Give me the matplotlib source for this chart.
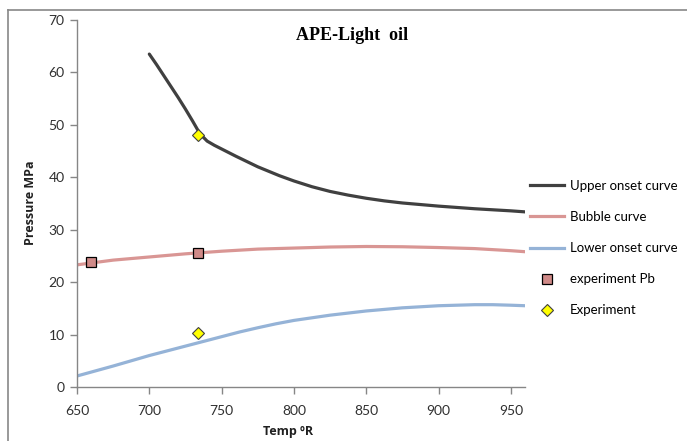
import matplotlib
matplotlib.use("Agg")
import matplotlib.pyplot as plt
from matplotlib.lines import Line2D

# Temperature (°R) and pressure (MPa) along each computed curve
upper_T = [700, 705, 710, 715, 720, 725, 730, 735, 740, 745, 750, 760, 775, 790, 800, 812.5, 825,
           837.5, 850, 862.5, 875, 887.5, 900, 925, 950, 960]
upper_P = [63.5, 61.5, 59.4, 57.3, 55.2, 53.0, 50.7, 48.3, 46.9, 46.1, 45.4, 44.0, 42.0, 40.3,
           39.3, 38.2, 37.3, 36.6, 36.0, 35.5, 35.1, 34.8, 34.5, 34.0, 33.6, 33.4]

bubble_T = [650, 675, 700, 725, 750, 775, 800, 825, 850, 875, 900, 925, 950, 960]
bubble_P = [23.3, 24.2, 24.8, 25.4, 25.9, 26.3, 26.5, 26.7, 26.8, 26.75, 26.6, 26.4, 26.0, 25.8]

lower_T = [650, 662.5, 675, 687.5, 700, 712.5, 725, 737.5, 750, 762.5, 775, 787.5, 800,
           812.5, 825, 837.5, 850, 862.5, 875, 887.5, 900, 912.5, 925, 937.5, 950, 960]
lower_P = [2.1, 3.05, 4.0, 5.0, 6.0, 6.9, 7.8, 8.7, 9.6, 10.5, 11.3, 12.05, 12.7,
           13.2, 13.7, 14.1, 14.5, 14.8, 15.1, 15.3, 15.5, 15.6, 15.7, 15.7, 15.6, 15.5]

# Measured points
pb_T = [660, 734]
pb_P = [23.8, 25.6]
onset_T = [734, 734]
onset_P = [48.1, 10.3]

x_ticks = [650, 700, 750, 800, 850, 900, 950]
y_ticks = [0, 10, 20, 30, 40, 50, 60, 70]

c_upper = "#404040"
c_bubble = "#D99694"
c_lower = "#95B3D7"
c_pb = "#D08A88"
c_exp = "#FFFF00"
spine_c = "#868686"

fig = plt.figure(figsize=(6.87, 4.41), dpi=100)
ax = fig.add_axes([77 / 687, 1 - 387 / 441, (525.3 - 77) / 687, (387 - 20) / 441])

ax.plot(upper_T, upper_P, color=c_upper, lw=2.3, solid_capstyle="round",
        solid_joinstyle="round", zorder=2)
ax.plot(bubble_T, bubble_P, color=c_bubble, lw=2.3, solid_joinstyle="round", zorder=2)
ax.plot(lower_T, lower_P, color=c_lower, lw=2.3, solid_joinstyle="round", zorder=2)
ax.plot(pb_T, pb_P, ls="none", marker="s", ms=7, mfc=c_pb, mec="#000000", mew=0.9, zorder=3)
ax.plot(onset_T, onset_P, ls="none", marker="D", ms=6.5, mfc=c_exp, mec="#404040", mew=0.8, zorder=3)

ax.set_xlim(650, 960)
ax.set_ylim(0, 70)
ax.set_xticks(x_ticks)
ax.set_yticks(y_ticks)
for s in ["top", "right"]:
    ax.spines[s].set_visible(False)
for s in ["left", "bottom"]:
    ax.spines[s].set_color(spine_c)
    ax.spines[s].set_linewidth(1.0)
ax.tick_params(axis="both", direction="out", length=5, width=1.0, color=spine_c,
               labelsize=10, labelcolor="#303030")
ax.tick_params(axis="x", pad=8)
ax.tick_params(axis="y", pad=4)
for lbl in ax.get_xticklabels() + ax.get_yticklabels():
    lbl.set_family("Lato")

fig.text(30 / 687, 1 - 203 / 441, "Pressure MPa", rotation=90, ha="center", va="center",
         fontsize=9, fontweight="bold", family="Open Sans", color="#202020")
fig.text(288 / 687, 1 - 432 / 441, "Temp ºR", ha="center", va="center",
         fontsize=9, fontweight="bold", family="Open Sans", color="#202020")
fig.text(352 / 687, 1 - 35 / 441, "APE-Light  oil", ha="center", va="center",
         fontsize=13, fontweight="bold", family="Liberation Serif", color="#000000")

handles = [
    Line2D([], [], color=c_upper, lw=2.3),
    Line2D([], [], color=c_bubble, lw=2.3),
    Line2D([], [], color=c_lower, lw=2.3),
    Line2D([], [], ls="none", marker="s", ms=7, mfc=c_pb, mec="#000000", mew=0.9),
    Line2D([], [], ls="none", marker="D", ms=6.5, mfc=c_exp, mec="#404040", mew=0.8),
]
labels = ["Upper onset curve", "Bubble curve", "Lower onset curve", "experiment Pb", "Experiment"]
fig.legend(handles, labels, loc="upper left", bbox_to_anchor=(526 / 687, 1 - 176 / 441),
           frameon=False, prop={"family": "Lato", "size": 9.5}, handlelength=2.6,
           handletextpad=0.4, labelspacing=1.45, borderaxespad=0, borderpad=0.3)

# Frame lines along the top and left of the figure
fig.add_artist(Line2D([8 / 687, 1.0], [1 - 10 / 441, 1 - 10 / 441], color="#888888", lw=1.2,
                      transform=fig.transFigure))
fig.add_artist(Line2D([8 / 687, 8 / 687], [0.0, 1 - 10 / 441], color="#888888", lw=1.2,
                      transform=fig.transFigure))

fig.savefig("out.png", dpi=100)
